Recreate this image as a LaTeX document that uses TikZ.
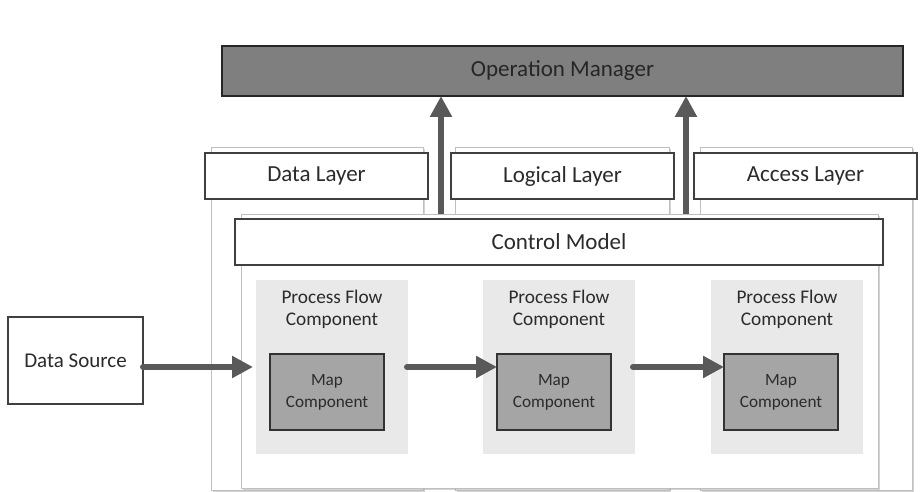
\documentclass[tikz,border=0pt]{standalone}
\usepackage{fontspec}
\setmainfont{Carlito}
\usetikzlibrary{arrows.meta,shadows}
\definecolor{txt}{HTML}{2B2B2B}
\definecolor{arrc}{HTML}{595959}
\definecolor{omfill}{HTML}{7F7F7F}
\definecolor{mapfill}{HTML}{A5A5A5}
\definecolor{pffill}{HTML}{E9E9E9}
\begin{document}
\begin{tikzpicture}[x=1pt,y=-1pt,
  box/.style={anchor=north west, inner sep=0pt, outer sep=0pt, align=center, text=txt},
  panel/.style={box, draw=gray!50, fill=white, line width=0.9pt,
    drop shadow={shadow xshift=1.5pt, shadow yshift=-1.8pt, opacity=0.35}},
  hdr/.style={box, draw=black!75, fill=white, line width=1.1pt,
    font=\fontsize{23}{27}\selectfont,
    drop shadow={shadow xshift=1pt, shadow yshift=-1pt, opacity=0.3}},
  pf/.style={box, fill=pffill, minimum width=152pt, minimum height=174pt},
  pftext/.style={anchor=north, inner sep=0pt, align=center, text=txt,
    font=\fontsize{19.3}{22}\selectfont},
  mapbox/.style={box, draw=black!80, fill=mapfill, line width=1.1pt,
    minimum width=114pt, minimum height=76pt, font=\fontsize{17.2}{22}\selectfont},
  arr/.style={draw=arrc, line width=6pt, line cap=round,
    -{Triangle[length=21pt, width=21pt]}}
]
\useasboundingbox (0,0) rectangle (923,492);

% background layer panels
\node[panel, minimum width=212pt, minimum height=343pt] (dlp) at (211,147) {};
\node[panel, minimum width=214pt, minimum height=343pt] (llp) at (455,147) {};
\node[panel, minimum width=212pt, minimum height=343pt] (alp) at (700,147) {};
% control model panel
\node[panel, minimum width=637pt, minimum height=274pt] (cp) at (241,214) {};

% layer headers
\node[hdr, minimum width=223pt, minimum height=46pt] (dl) at (205,153) {Data Layer};
\node[hdr, minimum width=223pt, minimum height=46pt] (ll) at (451,153) {Logical Layer};
\node[hdr, minimum width=223pt, minimum height=46pt] (al) at (694,153) {Access Layer};

% control model
\node[hdr, minimum width=648pt, minimum height=46pt] (cm) at (235,219) {Control Model};

% process flow components
\node[pf] (pf1) at (256,280) {};
\node[pf] (pf2) at (483,280) {};
\node[pf] (pf3) at (711,280) {};
\node[pftext] (pft1) at ([yshift=-10pt]pf1.north) {Process Flow\\Component};
\node[pftext] (pft2) at ([yshift=-10pt]pf2.north) {Process Flow\\Component};
\node[pftext] (pft3) at ([yshift=-10pt]pf3.north) {Process Flow\\Component};

% map components
\node[mapbox] (m1) at (270,354) {Map\\Component};
\node[mapbox] (m2) at (497,354) {Map\\Component};
\node[mapbox] (m3) at (724,354) {Map\\Component};

% data source
\node[box, draw=black!75, fill=white, line width=1.1pt, minimum width=135pt,
  minimum height=87pt, font=\fontsize{21}{25}\selectfont] (ds) at (8,317) {Data Source};

% operation manager
\node[box, draw=black!85, fill=omfill, line width=1.1pt, minimum width=681pt,
  minimum height=50pt, font=\fontsize{23}{27}\selectfont, text=black!85] (om) at (222,46) {Operation Manager};

% horizontal arrows
\draw[arr, shorten >=3pt] (ds.east |- pf1.east) -- (pf1.west);
\draw[arr] ([xshift=-1pt]pf1.east) -- (pf1.east -| m2.west);
\draw[arr] ([xshift=-2pt]pf2.east) -- (pf2.east -| m3.west);

% vertical arrows
\coordinate (up1) at (441,214);
\coordinate (up2) at (686,214);
\draw[arr, line cap=butt] (up1) -- (up1 |- om.south);
\draw[arr, line cap=butt] (up2) -- (up2 |- om.south);
\end{tikzpicture}
\end{document}
